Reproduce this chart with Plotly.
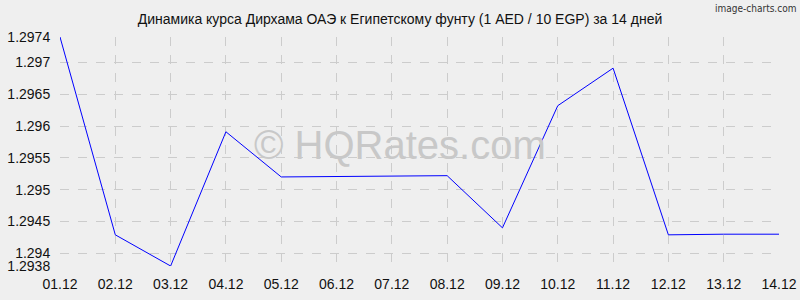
import plotly.graph_objects as go

dates = ["01.12", "02.12", "03.12", "04.12", "05.12", "06.12", "07.12",
         "08.12", "09.12", "10.12", "11.12", "12.12", "13.12", "14.12"]
rates = [1.2974, 1.29429, 1.2938, 1.29591, 1.29520, 1.29521, 1.29521,
         1.29522, 1.2944, 1.29632, 1.29691, 1.29429, 1.2943, 1.2943]
y_ticks = [1.2938, 1.294, 1.2945, 1.295, 1.2955, 1.296, 1.2965, 1.297, 1.2974]
y_tick_text = ["1.2938", "1.294", "1.2945", "1.295", "1.2955", "1.296", "1.2965", "1.297", "1.2974"]

x_idx = list(range(len(dates)))
BG = "#efefef"

fig = go.Figure()
fig.add_trace(go.Scatter(x=x_idx, y=rates, mode="lines",
                         line=dict(color="#0000ff", width=1), hoverinfo="skip"))

fig.update_layout(
    width=800, height=300,
    margin=dict(l=60, r=21, t=37, b=34, autoexpand=False),
    paper_bgcolor=BG, plot_bgcolor=BG,
    showlegend=False,
    font=dict(family="Liberation Sans, Arial, sans-serif", size=14, color="#111111"),
    title=dict(text="Динамика курса Дирхама ОАЭ к Египетскому фунту (1 AED / 10 EGP) за 14 дней",
               x=0.5, xanchor="center", y=1 - 19/300, yanchor="middle",
               font=dict(size=14, color="#111111")),
)
fig.update_xaxes(range=[0, 13], tickvals=x_idx, ticktext=dates, showgrid=True,
                 gridcolor="#cccccc", griddash="dash", gridwidth=1, automargin=False,
                 zeroline=False, showline=False, ticks="outside", ticklen=5,
                 tickcolor=BG, tickfont=dict(size=14))
fig.update_yaxes(range=[1.2938, 1.2974], tickvals=y_ticks, ticktext=y_tick_text,
                 showgrid=True, gridcolor="#cccccc", griddash="dash", gridwidth=1,
                 automargin=False,
                 zeroline=False, showline=False, ticks="outside", ticklen=6,
                 tickcolor=BG, tickfont=dict(size=14))

fig.add_annotation(text="© HQRates.com", xref="paper", yref="paper",
                   x=(400 - 60) / 719, y=(266 - 145) / 229,
                   xanchor="center", yanchor="middle",
                   showarrow=False, font=dict(size=40, color="rgb(200,200,200)",
                                              family="Liberation Sans, Arial, sans-serif"))
fig.add_annotation(text="image-charts.com", xref="paper", yref="paper",
                   x=(798 - 60) / 719, y=(266 - 8) / 229, xanchor="right", yanchor="middle",
                   showarrow=False, font=dict(size=10, color="#333333",
                                              family="DejaVu Sans Condensed, DejaVu Sans, sans-serif"))

fig.write_html("out.html")
